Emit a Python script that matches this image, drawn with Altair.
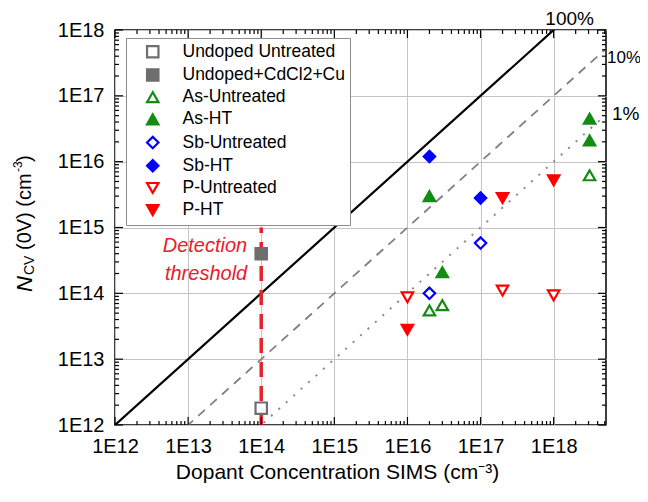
import altair as alt
import pandas as pd

FONT = "Liberation Sans"

# ---------------- data ----------------
series_names = ["Undoped Untreated", "Undoped+CdCl2+Cu", "As-Untreated", "As-HT",
                "Sb-Untreated", "Sb-HT", "P-Untreated", "P-HT"]
series_shapes = ["square", "square", "triangle-up", "triangle-up",
                 "diamond", "diamond", "triangle-down", "triangle-down"]
series_stroke = ["#6e6e6e", "#6e6e6e", "#148c14", "#148c14",
                 "#0000ff", "#0000ff", "#ff0000", "#ff0000"]
series_fill = ["#ffffff", "#6e6e6e", "#ffffff", "#148c14",
               "#ffffff", "#0000ff", "#ffffff", "#ff0000"]
series_size = [130, 130, 290, 290, 280, 280, 290, 290]

undoped_untreated_x = [1e14]
undoped_untreated_y = [1.8e12]
undoped_cu_x = [1e14]
undoped_cu_y = [4e14]
as_untreated_x = [2e16, 3e16, 3.1e18]
as_untreated_y = [5.5e13, 6.6e13, 6.2e15]
as_ht_x = [2e16, 3e16, 3.1e18, 3.1e18]
as_ht_y = [3e15, 2.1e14, 4.5e16, 2.1e16]
sb_untreated_x = [2e16, 1e17]
sb_untreated_y = [1e14, 5.8e14]
sb_ht_x = [2e16, 1e17]
sb_ht_y = [1.2e16, 2.8e15]
p_untreated_x = [1e16, 2e17, 1e18]
p_untreated_y = [8.7e13, 1.1e14, 9.3e13]
p_ht_x = [1e16, 2e17, 1e18]
p_ht_y = [2.8e13, 2.8e15, 5.2e15]

# reference lines (100 %, 10 %, 1 %)
ref_x = [1e12, 5.2e18]
ref_100_y = [1e12, 5.2e18]
ref_10_y = [1e11, 5.2e17]
ref_1_y = [1e10, 5.2e16]

# detection threshold
det_x = [1e14, 1e14]
det_y = [1e12, 1e15]

# axes
x_domain = [1e12, 5.2e18]
y_domain = [1e12, 1e18]
major_ticks = [1e12, 1e13, 1e14, 1e15, 1e16, 1e17, 1e18]
x_minor = [m * d for d in major_ticks for m in range(2, 10) if m * d <= x_domain[1]]
y_minor = [m * d for d in major_ticks for m in range(2, 10) if m * d <= y_domain[1]]

W, H = 491, 395
MAJ, MIN = 8, 4

# ---------------- tables ----------------
all_x = [undoped_untreated_x, undoped_cu_x, as_untreated_x, as_ht_x,
         sb_untreated_x, sb_ht_x, p_untreated_x, p_ht_x]
all_y = [undoped_untreated_y, undoped_cu_y, as_untreated_y, as_ht_y,
         sb_untreated_y, sb_ht_y, p_untreated_y, p_ht_y]
rows = []
for name, xs_, ys_ in zip(series_names, all_x, all_y):
    for xv, yv in zip(xs_, ys_):
        rows.append({"series": name, "x": xv, "y": yv})
points_df = pd.DataFrame(rows)

ref_df = pd.DataFrame(
    [{"line": "100%", "x": xv, "y": yv} for xv, yv in zip(ref_x, ref_100_y)]
    + [{"line": "10%", "x": xv, "y": yv} for xv, yv in zip(ref_x, ref_10_y)]
    + [{"line": "1%", "x": xv, "y": yv} for xv, yv in zip(ref_x, ref_1_y)]
)
det_df = pd.DataFrame({"x": det_x, "y": det_y})

xs = alt.Scale(type="log", domain=x_domain, nice=False)
ys = alt.Scale(type="log", domain=y_domain, nice=False)

LABEL = "'1E' + round(log(datum.value)/LN10)"

x_axis_main = alt.Axis(orient="bottom", values=major_ticks, labelExpr=LABEL, labelFont=FONT,
                       labelFontSize=20, labelColor="black", labelPadding=11,
                       labelOverlap=False, labelFlush=False, ticks=False, domain=False,
                       grid=True, gridColor="#c4c4c4", gridWidth=1,
                       title="Dopant Concentration SIMS (cm⁻³)", titleFont=FONT,
                       titleFontSize=21, titleFontWeight="normal", titleColor="black",
                       titlePadding=5, titleX=222)
y_axis_main = alt.Axis(orient="left", values=major_ticks, labelExpr=LABEL, labelFont=FONT,
                       labelFontSize=20, labelColor="black", labelPadding=11,
                       labelOverlap=False, labelFlush=False, ticks=False, domain=False,
                       grid=True, gridColor="#c4c4c4", gridWidth=1, title=None)

# ---------------- inward tick marks on all four sides ----------------
xt_major = pd.DataFrame({"v": major_ticks})
xt_minor = pd.DataFrame({"v": x_minor})
yt_major = pd.DataFrame({"v": major_ticks})
yt_minor = pd.DataFrame({"v": y_minor})


def xticks(df, length):
    base = alt.Chart(df).mark_rule(color="black", strokeWidth=1.2)
    bottom = base.encode(x=alt.X("v:Q", scale=xs, axis=None),
                         y=alt.value(H), y2=alt.value(H - length))
    top = base.encode(x=alt.X("v:Q", scale=xs, axis=None),
                      y=alt.value(0), y2=alt.value(length))
    return [bottom, top]


def yticks(df, length):
    base = alt.Chart(df).mark_rule(color="black", strokeWidth=1.2)
    left = base.encode(y=alt.Y("v:Q", scale=ys, axis=None),
                       x=alt.value(0), x2=alt.value(length))
    right = base.encode(y=alt.Y("v:Q", scale=ys, axis=None),
                        x=alt.value(W), x2=alt.value(W - length))
    return [left, right]


tick_layers = (xticks(xt_major, MAJ) + xticks(xt_minor, MIN)
               + yticks(yt_major, MAJ) + yticks(yt_minor, MIN))

# ---------------- layers ----------------
ref_base = alt.Chart(ref_df)
line100 = ref_base.transform_filter("datum.line == '100%'").mark_line(
    color="black", strokeWidth=2.2, clip=True).encode(
    x=alt.X("x:Q", scale=xs, axis=x_axis_main),
    y=alt.Y("y:Q", scale=ys, axis=y_axis_main))
line10 = ref_base.transform_filter("datum.line == '10%'").mark_line(
    color="#808080", strokeWidth=1.8, strokeDash=[9, 7], clip=True).encode(
    x=alt.X("x:Q", scale=xs, axis=None), y=alt.Y("y:Q", scale=ys, axis=None))
line1 = ref_base.transform_filter("datum.line == '1%'").mark_line(
    color="#8a8a8a", strokeWidth=2, strokeDash=[2, 8], clip=True).encode(
    x=alt.X("x:Q", scale=xs, axis=None), y=alt.Y("y:Q", scale=ys, axis=None))

det_line = alt.Chart(det_df).mark_line(color="#e8202a", strokeWidth=3.5,
                                        strokeDash=[15, 9]).encode(
    x=alt.X("x:Q", scale=xs, axis=None), y=alt.Y("y:Q", scale=ys, axis=None))

legend = alt.Legend(title=None)
points = alt.Chart(points_df).mark_point(opacity=1, fillOpacity=1, strokeWidth=2.2).encode(
    x=alt.X("x:Q", scale=xs, axis=None),
    y=alt.Y("y:Q", scale=ys, axis=None),
    shape=alt.Shape("series:N", scale=alt.Scale(domain=series_names, range=series_shapes),
                    legend=legend),
    stroke=alt.Stroke("series:N", scale=alt.Scale(domain=series_names, range=series_stroke),
                      legend=legend),
    fill=alt.Fill("series:N", scale=alt.Scale(domain=series_names, range=series_fill),
                  legend=legend),
    size=alt.Size("series:N", scale=alt.Scale(domain=series_names, range=series_size),
                  legend=legend),
)

# percentage labels
pct_df = pd.DataFrame({"x": [1e18], "y": [1e18], "t": ["100%"]})
pct100 = alt.Chart(pct_df).mark_text(font=FONT, fontSize=19, color="black", align="center",
                                     dx=16, dy=-11).encode(
    x=alt.X("x:Q", scale=xs, axis=None), y=alt.Y("y:Q", scale=ys, axis=None), text="t:N")
pct10_df = pd.DataFrame({"x": [ref_x[1]], "y": [ref_10_y[1]], "t": ["10%"]})
pct10 = alt.Chart(pct10_df).mark_text(font=FONT, fontSize=17, color="black", align="left",
                                      dx=1, dy=9).encode(
    x=alt.X("x:Q", scale=xs, axis=None), y=alt.Y("y:Q", scale=ys, axis=None), text="t:N")
pct1_df = pd.DataFrame({"x": [ref_x[1]], "y": [ref_1_y[1]], "t": ["1%"]})
pct1 = alt.Chart(pct1_df).mark_text(font=FONT, fontSize=19, color="black", align="left",
                                    dx=6, dy=-1).encode(
    x=alt.X("x:Q", scale=xs, axis=None), y=alt.Y("y:Q", scale=ys, axis=None), text="t:N")

det_text_df = pd.DataFrame({"x": [1e14, 1e14], "y": [5.3e14, 2.0e14],
                            "t": ["Detection", "threshold"]})
det_text = alt.Chart(det_text_df).mark_text(font=FONT, fontSize=20, fontStyle="italic",
                                            color="#e8202a", align="right", dx=-14).encode(
    x=alt.X("x:Q", scale=xs, axis=None), y=alt.Y("y:Q", scale=ys, axis=None), text="t:N")


# y-axis title composed of pieces (rotated)
def ypiece(txt, px, py, size, style="normal"):
    return alt.Chart(pd.DataFrame({"t": [txt]})).mark_text(
        font=FONT, fontSize=size, fontStyle=style, color="black", angle=270,
        align="left", baseline="middle").encode(
        x=alt.value(px), y=alt.value(py), text="t:N")


ytitle_layers = [ypiece("N", -90, 262, 22, "italic"), ypiece("CV", -85, 245, 14),
                 ypiece("(0V) (cm", -90, 220, 20), ypiece("-3", -97, 142, 12),
                 ypiece(")", -90, 132, 20)]

chart = alt.layer(
    line100, line10, line1, det_line, *tick_layers, points, pct100, pct10, pct1, det_text,
    *ytitle_layers
).resolve_axis(x="independent", y="independent").properties(
    width=W, height=H, autosize="none",
    padding={"left": 107, "top": 22, "right": 34, "bottom": 63},
).configure_view(stroke="black", strokeWidth=1.5).configure_legend(
    orient="none", legendX=11, legendY=8, fillColor="white", strokeColor="#8c8c8c",
    padding=5, labelFont=FONT, labelFontSize=17.5, labelColor="black", rowPadding=2.2,
    labelOffset=21, symbolOffset=13, symbolStrokeWidth=2.2, cornerRadius=0, labelLimit=400,
)

chart.save("out.html", embed_options={"renderer": "svg", "actions": False})
